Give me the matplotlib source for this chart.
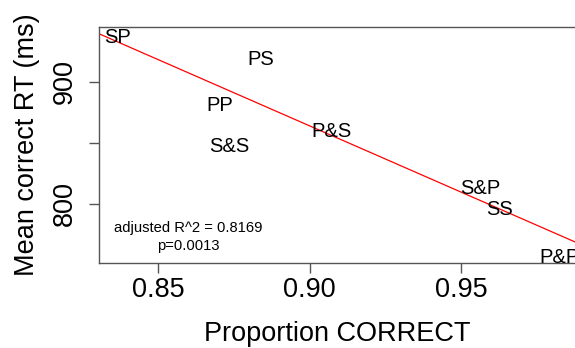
import matplotlib
matplotlib.use("Agg")
import matplotlib.pyplot as plt
import numpy as np

plt.rcParams['font.family'] = ['Liberation Sans', 'DejaVu Sans']

# condition labels with accuracy and mean correct RT
conditions = ['SP', 'PS', 'PP', 'S&S', 'P&S', 'S&P', 'SS', 'P&P']
prop_correct = [0.8365, 0.8840, 0.8703, 0.8734, 0.9073, 0.9563, 0.9627, 0.9825]
mean_rt = [937.3, 919.3, 881.6, 848.0, 860.7, 813.5, 796.3, 757.4]

# linear fit RT ~ accuracy
fit_intercept = 1841.4
fit_slope = -1086.0
adj_r2 = 0.8169
p_value = 0.0013

x_ticks = [0.85, 0.90, 0.95]
y_ticks = [800, 850, 900]
y_ticklabels = ['800', '', '900']

fig = plt.figure(figsize=(5.75, 3.48), dpi=100)
ax = fig.add_axes([99/575, 85/348, 1 - 99/575, 236/348])
ax.set_xlim(0.8305, 0.9876)
ax.set_ylim(751.6, 945.0)

for lab, x, y in zip(conditions, prop_correct, mean_rt):
    ax.text(x, y - 1.2, lab, ha='center', va='center', fontsize=14.5, color='black')

xs = np.array(ax.get_xlim())
ax.plot(xs, fit_intercept + fit_slope * xs, color='red', lw=0.9)

ax.text(0.8599, 780.0, 'adjusted R^2 = %.4f' % adj_r2, ha='center', va='center', fontsize=10.6)
ax.text(0.8599, 765.5, 'p=%.4f' % p_value, ha='center', va='center', fontsize=10.6)

for side in ['left', 'top', 'bottom']:
    ax.spines[side].set_color('#555555')
    ax.spines[side].set_linewidth(1.0)
ax.spines['right'].set_visible(False)

ax.set_xticks(x_ticks)
ax.set_xticklabels(['%.2f' % v for v in x_ticks])
ax.set_yticks(y_ticks)
ax.set_yticklabels(y_ticklabels, rotation=90, va='center')
ax.tick_params(axis='x', length=7, width=1, color='#555555', labelsize=19.5, pad=3)
ax.tick_params(axis='y', length=7, width=1, color='#555555', labelsize=19.5, pad=8)

ax.set_xlabel('Proportion CORRECT', fontsize=19.5, labelpad=13)
ax.set_ylabel('Mean correct RT (ms)', fontsize=19.5, labelpad=9)

fig.savefig('out.png', dpi=100)
